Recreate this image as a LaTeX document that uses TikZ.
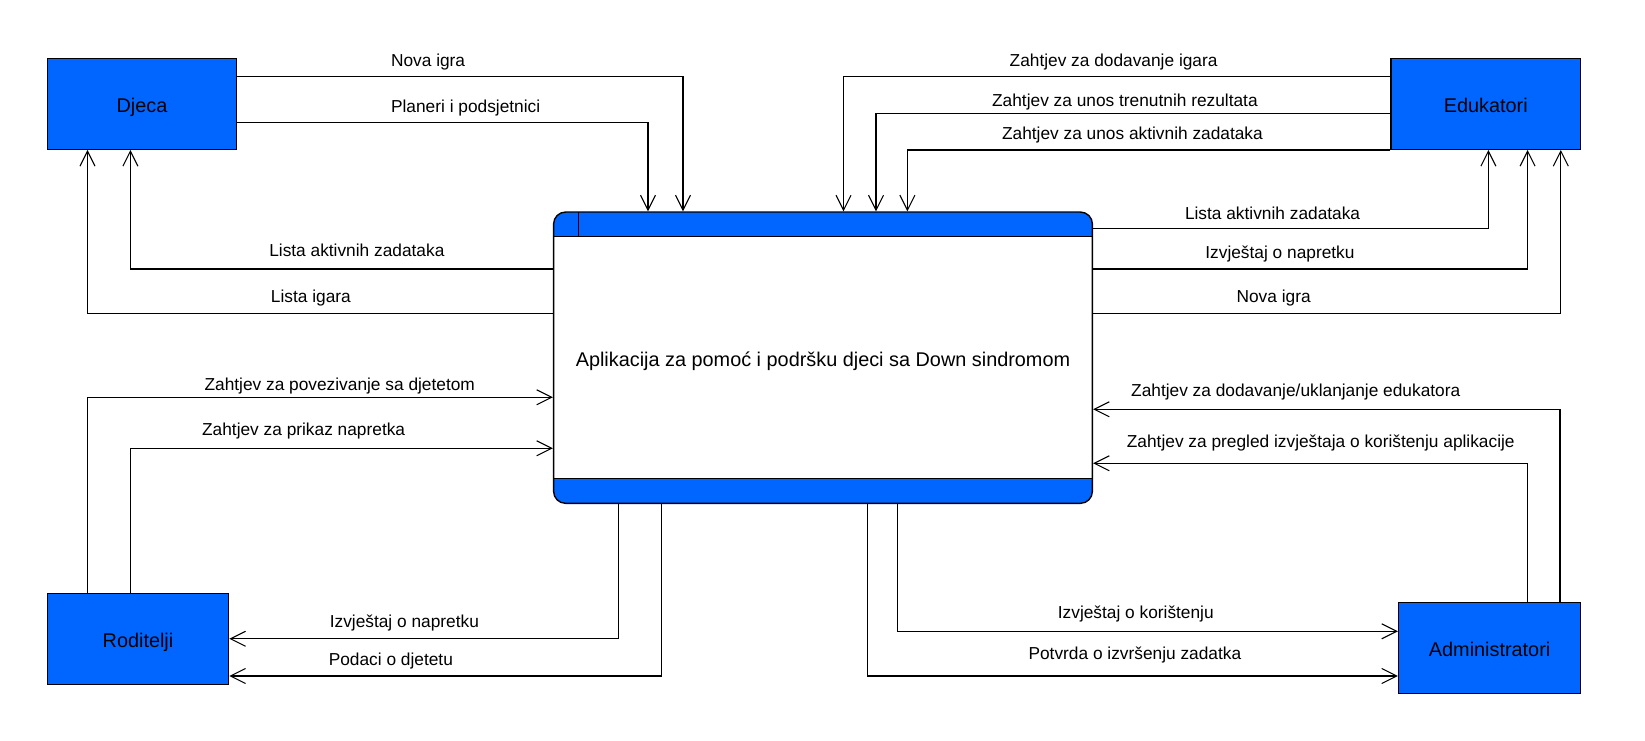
\documentclass[tikz,border=0pt]{standalone}
\usepackage{fontspec}
\setmainfont{Liberation Sans}
\usetikzlibrary{arrows.meta}
\definecolor{appblue}{HTML}{0066FF}

\begin{document}
\begin{tikzpicture}[
	entity/.style={shape=rectangle,
				   draw=black,
				   line width=0.8pt,
				   fill=appblue,
				   minimum height=1.82cm,
				   text height=9.8pt,
				   text depth=0pt,
				   font=\fontsize{11.3}{14}\selectfont},
	process/.style={shape=rectangle,
					rounded corners=0.24cm,
					draw=black,
					line width=0.8pt,
					fill=white,
					minimum width=10.776cm,
					minimum height=5.826cm,
					text height=9.8pt,
					text depth=0pt,
					font=\fontsize{11.3}{14}\selectfont,
					path picture={
						\fill[appblue, sharp corners] (path picture bounding box.north west) rectangle ([yshift=-0.486cm]path picture bounding box.north east);
						\fill[appblue, sharp corners] (path picture bounding box.south west) rectangle ([yshift=0.5cm]path picture bounding box.south east);
						\draw[sharp corners, line width=0.8pt] ([yshift=-0.486cm]path picture bounding box.north west) -- ([yshift=-0.486cm]path picture bounding box.north east);
						\draw[sharp corners, line width=0.8pt] ([yshift=0.5cm]path picture bounding box.south west) -- ([yshift=0.5cm]path picture bounding box.south east);
						\draw[sharp corners, line width=0.8pt] ([xshift=0.5cm]path picture bounding box.north west) -- ([xshift=0.5cm, yshift=-0.486cm]path picture bounding box.north west);
					}},
	flow/.style={line width=0.6pt, -{Straight Barb[length=0.3cm, width=0.3cm]}},
	lbl/.style={anchor=base, yshift=0.2cm, font=\fontsize{9.85}{12}\selectfont}
]
	\useasboundingbox (0,0) rectangle (32.9,-14.82);

	\draw (16.46,-7.154) node[process](app){Aplikacija za pomoć i podršku djeci sa Down sindromom};

	\draw (2.84,-2.076) node[entity, minimum width=3.786cm](djeca){Djeca};
	\draw (29.716,-2.076) node[entity, minimum width=3.792cm](edu){Edukatori};
	\draw (2.76,-12.776) node[entity, minimum width=3.626cm](rod){Roditelji};
	\draw (29.792,-12.956) node[entity, minimum width=3.64cm](adm){Administratori};

	\draw [flow]([yshift=0.55cm]djeca.east) -| node[lbl, pos=0.214]{Nova igra} ([xshift=-2.8cm]app.north);
	\draw [flow]([yshift=-0.37cm]djeca.east) -| node[lbl, pos=0.278]{Planeri i podsjetnici} ([xshift=-3.5cm]app.north);
	\draw [flow]([yshift=1.774cm]app.west) -| node[lbl, pos=0.232, yshift=0.05cm]{Lista aktivnih zadataka} ([xshift=-0.232cm]djeca.south);
	\draw [flow]([yshift=0.888cm]app.west) -| node[lbl, pos=0.26, yshift=0.02cm]{Lista igara} ([xshift=-1.09cm]djeca.south);

	\draw [flow]([yshift=0.55cm]edu.west) -| node[lbl, pos=0.253]{Zahtjev za dodavanje igara} ([xshift=0.41cm]app.north);
	\draw [flow]([yshift=-0.19cm]edu.west) -| node[lbl, pos=0.258, yshift=-0.055cm]{Zahtjev za unos trenutnih rezultata} ([xshift=1.06cm]app.north);
	\draw [flow](edu.south west) -| node[lbl, pos=0.267]{Zahtjev za unos aktivnih zadataka} ([xshift=1.688cm]app.north);
	\draw [flow]([yshift=2.588cm]app.east) -| node[lbl, pos=0.227, yshift=-0.03cm]{Lista aktivnih zadataka} ([xshift=0.052cm]edu.south);
	\draw [flow]([yshift=1.774cm]app.east) -| node[lbl, pos=0.215]{Izvještaj o napretku} ([xshift=0.836cm]edu.south);
	\draw [flow]([yshift=0.888cm]app.east) -| node[lbl, pos=0.193, yshift=0.02cm]{Nova igra} ([xshift=1.5cm]edu.south);

	\draw [flow]([xshift=-1.01cm]rod.north) |- node[lbl, pos=0.771, yshift=-0.055cm]{Zahtjev za povezivanje sa djetetom} ([yshift=-0.792cm]app.west);
	\draw [flow]([xshift=-0.152cm]rod.north) |- node[lbl, pos=0.705, yshift=0.05cm]{Zahtjev za prikaz napretka} ([yshift=-1.812cm]app.west);
	\draw [flow]([xshift=-4.094cm]app.south) |- node[lbl, pos=0.775, yshift=0.02cm]{Izvještaj o napretku} (rod.east);
	\draw [flow]([xshift=-3.236cm]app.south) |- node[lbl, pos=0.813]{Podaci o djetetu} ([yshift=-0.744cm]rod.east);

	\draw [flow]([xshift=1.408cm]adm.north) |- node[lbl, pos=0.783, yshift=0.05cm]{Zahtjev za dodavanje/uklanjanje edukatora} ([yshift=-1.032cm]app.east);
	\draw [flow]([xshift=0.76cm]adm.north) |- node[lbl, pos=0.738, yshift=0.11cm]{Zahtjev za pregled izvještaja o korištenju aplikacije} ([yshift=-2.112cm]app.east);
	\draw [flow]([xshift=1.494cm]app.south) |- node[lbl, pos=0.738, yshift=0.05cm]{Izvještaj o korištenju} ([yshift=0.33cm]adm.west);
	\draw [flow]([xshift=0.892cm]app.south) |- node[lbl, pos=0.752, yshift=0.13cm]{Potvrda o izvršenju zadatka} ([yshift=-0.564cm]adm.west);
\end{tikzpicture}
\end{document}
